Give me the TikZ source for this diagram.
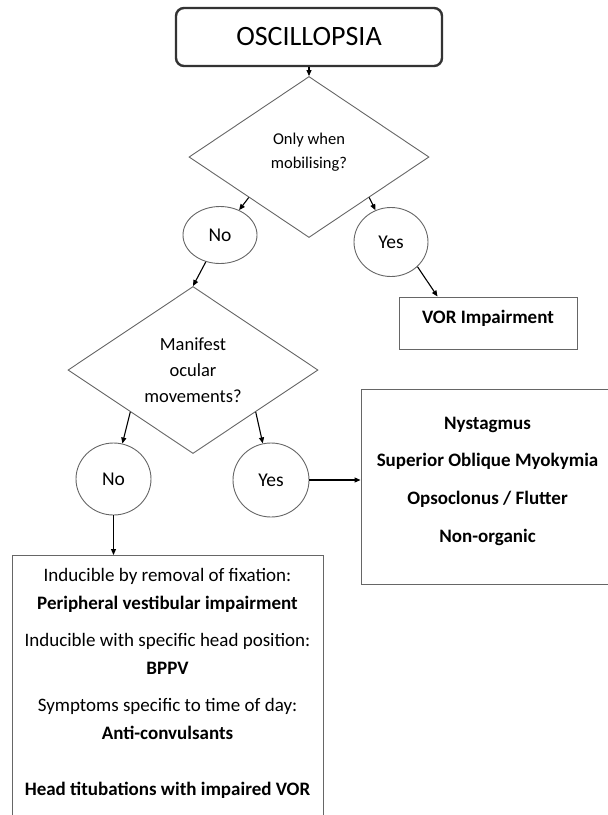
\documentclass[tikz,border=0pt]{standalone}
\usepackage{fontspec}
\setmainfont{Carlito}
\usetikzlibrary{shapes.geometric, arrows.meta, positioning}
\definecolor{edge}{HTML}{666666}
\definecolor{frame}{HTML}{333333}

\begin{document}
\begin{tikzpicture}[x=1pt, y=-1pt, on grid,
  title/.style={rectangle, draw=frame, line width=2.4pt, rounded corners=8pt,
                minimum width=266pt, minimum height=58pt, font=\fontsize{28}{32}\selectfont},
  query/.style={diamond, draw=edge, line width=0.9pt, aspect=1.5, inner sep=0pt, align=center},
  answer/.style={ellipse, draw=edge, line width=0.9pt, inner sep=0pt,
                 font=\fontsize{19.5}{22}\selectfont},
  result/.style={rectangle, draw=edge, line width=1pt, align=center,
                 font=\fontsize{19}{37.7}\selectfont\bfseries},
  arr/.style={-{Triangle[length=6pt,width=5pt]}, line width=1.1pt}
]
\path[use as bounding box] (0,0) rectangle (608,815);
\node[title] (top) at (309,37) {OSCILLOPSIA};
\node[query, minimum width=240pt, minimum height=161pt, text depth=13pt,
      font=\fontsize{16.5}{24}\selectfont, below=120pt of top] (q1) {Only when\\mobilising?};
\node[answer, minimum width=74pt, minimum height=57pt, below left=78pt and 89pt of q1] (no1) {No};
\node[answer, minimum width=74pt, minimum height=69pt, below right=85pt and 82pt of q1] (yes1) {Yes};
\node[result, minimum width=178pt, minimum height=52pt, text depth=13pt,
      below right=81pt and 97pt of yes1] (vor) {VOR Impairment};
\node[query, minimum width=250pt, minimum height=167pt, font=\fontsize{18.5}{26}\selectfont,
      below left=135pt and 27pt of no1] (q2) {Manifest\\ocular\\movements?};
\node[answer, minimum width=75pt, minimum height=72pt, below left=109pt and 79.5pt of q2] (no2) {No};
\node[answer, minimum width=76pt, minimum height=74pt, below right=110pt and 78pt of q2] (yes2) {Yes};
\node[result, minimum width=253pt, minimum height=195pt, text depth=14pt,
      below right=6.5pt and 216.5pt of yes2] (opts)
  {Nystagmus\\Superior Oblique Myokymia\\Opsoclonus / Flutter\\Non-organic};
% bottom box runs off the page
\node[draw=edge, line width=1pt, minimum width=311pt, inner ysep=13pt, align=center,
      anchor=north, text depth=45pt, font=\fontsize{19}{28}\selectfont] (causes) at (167.5,555)
  {Inducible by removal of fixation:\\\textbf{Peripheral vestibular impairment}\\[9pt]
   Inducible with specific head position:\\\textbf{BPPV}\\[9pt]
   Symptoms specific to time of day:\\\textbf{Anti-convulsants}\\[28pt]
   \textbf{Head titubations with impaired VOR}};

\draw[arr] (top) -- (q1);
\draw[arr] (q1.south west) -- (no1);
\draw[arr] (q1.south east) -- (yes1);
\draw[arr] (yes1.south east) -- ([xshift=39pt]vor.north west);
\draw[arr] (no1) -- (q2.north);
\draw[arr] (q2.south west) -- (no2);
\draw[arr] (q2.south east) -- (yes2);
\draw[arr] (yes2.east) -- (yes2.east -| opts.west);
\draw[arr] (no2.south) -- (no2.south |- causes.north);
\end{tikzpicture}
\end{document}
